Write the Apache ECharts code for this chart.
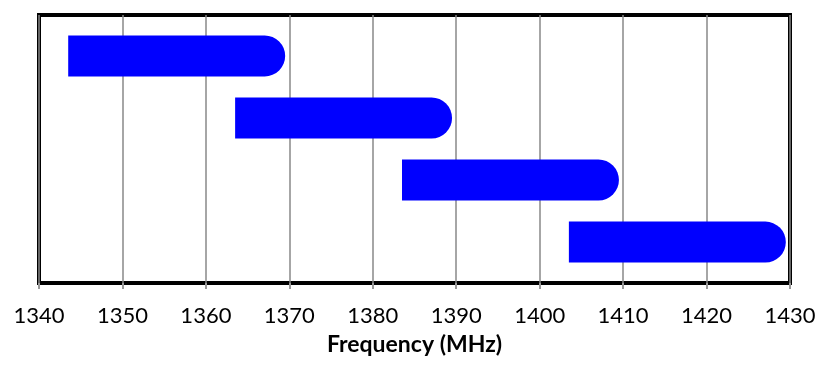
<!DOCTYPE html>
<html>
<head>
<meta charset="utf-8">
<script src="https://cdn.jsdelivr.net/npm/echarts@6/dist/echarts.min.js"></script>
<style>
  html, body { margin: 0; padding: 0; background: #fff; }
  #chart { width: 830px; height: 366px; }
</style>
</head>
<body>
<div id="chart"></div>
<script>
// 频段数据（MHz）
const rows = [4, 3, 2, 1]
const startFreq = [1343.5, 1363.5, 1383.5, 1403.5]
const endFreq = [1369.5, 1389.5, 1409.5, 1429.5]
const xTicks = [1340, 1350, 1360, 1370, 1380, 1390, 1400, 1410, 1420, 1430]

const chart = echarts.init(document.getElementById('chart'))

const bandData = rows.map((r, i) => [r, startFreq[i], endFreq[i]])

// 右端半圆的横条
const renderBand = (params, api) => {
  const y = api.value(0)
  const a = api.coord([api.value(1), y])
  const b = api.coord([api.value(2), y])
  const h = api.size([0, 0.66])[1]
  const r = h / 2
  return {
    type: 'rect',
    shape: { x: a[0], y: a[1] - r, width: b[0] - a[0], height: h, r: [0, r, r, 0] },
    style: { fill: '#0000ff' }
  }
}

const option = {
  animation: false,
  grid: {
    left: 39,
    right: 40,
    top: 15,
    bottom: 83,
    show: true,
    borderColor: '#000',
    borderWidth: 4,
    backgroundColor: 'transparent'
  },
  xAxis: {
    type: 'value',
    min: xTicks[0],
    max: xTicks[xTicks.length - 1],
    interval: 10,
    name: 'Frequency (MHz)',
    nameLocation: 'middle',
    nameGap: 50,
    nameTextStyle: { fontFamily: 'Lato', fontWeight: 'bold', fontSize: 23, color: '#000' },
    axisLine: { show: false },
    axisTick: { show: true, length: 6, lineStyle: { color: '#999', width: 2 } },
    axisLabel: { fontFamily: 'Lato', fontSize: 22, color: '#000', margin: 22, formatter: (v) => String(v) },
    splitLine: { show: true, lineStyle: { color: '#888', width: 1.5 } }
  },
  yAxis: {
    type: 'value',
    min: 0.34,
    max: 4.66,
    show: false,
    splitLine: { show: false }
  },
  series: [
    {
      type: 'custom',
      renderItem: renderBand,
      encode: { x: [1, 2], y: 0 },
      data: bandData,
      z: 3
    }
  ]
}

chart.setOption(option)
</script>
</body>
</html>
